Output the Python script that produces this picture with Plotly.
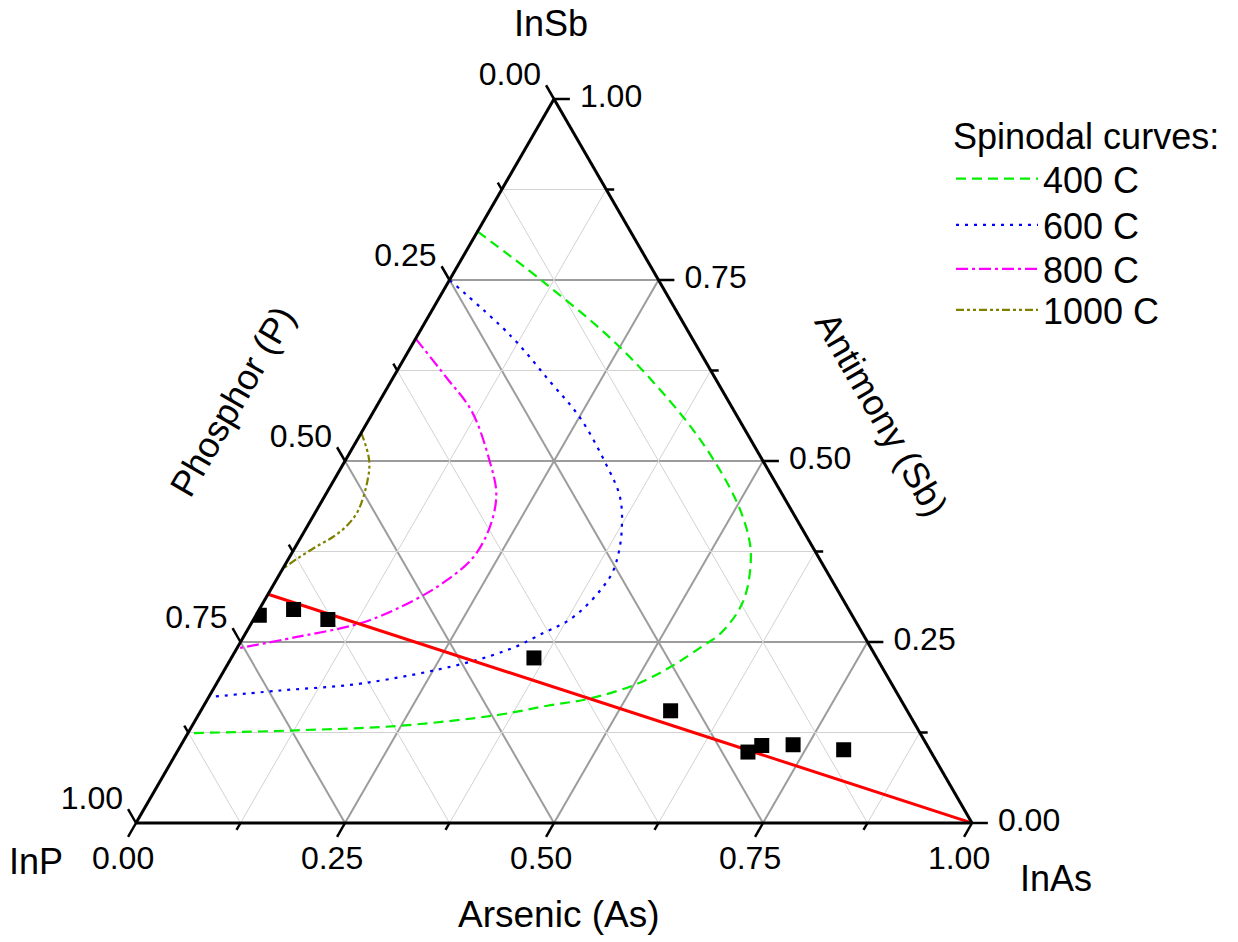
import math
import plotly.graph_objects as go

# Ternary system InP - InAs - InSb; a = Sb (top), b = P (bottom left), c = As (bottom right).
# Only Sb and As are given; plotly fills in P = 1 - Sb - As.

# Measured samples
sample_sb = [0.287, 0.295, 0.281, 0.228, 0.155, 0.098, 0.107, 0.108, 0.101]
sample_as = [0.004, 0.041, 0.089, 0.362, 0.562, 0.683, 0.695, 0.732, 0.796]

# Straight line from InP(0.684)Sb(0.316) to InAs
line_sb = [0.316, 0.0]
line_as = [0.0, 1.0]

# Spinodal curves
spin400_sb = [0.817, 0.749, 0.661, 0.560, 0.495, 0.440, 0.397, 0.367, 0.321, 0.293,
              0.261, 0.245, 0.218, 0.192, 0.172, 0.162, 0.149, 0.134, 0.128, 0.124]
spin400_as = [0.000, 0.111, 0.245, 0.375, 0.447, 0.500, 0.534, 0.552, 0.570, 0.574,
              0.568, 0.556, 0.534, 0.503, 0.457, 0.411, 0.357, 0.245, 0.128, 0.000]

spin600_sb = [0.750, 0.672, 0.610, 0.560, 0.495, 0.450, 0.404, 0.369, 0.344, 0.323,
              0.296, 0.277, 0.264, 0.242, 0.220, 0.193, 0.183, 0.174]
spin600_as = [0.000, 0.113, 0.190, 0.251, 0.315, 0.354, 0.379, 0.392, 0.397, 0.395,
              0.387, 0.375, 0.358, 0.330, 0.281, 0.175, 0.081, 0.000]

spin800_sb = [0.669, 0.615, 0.569, 0.500, 0.454, 0.408, 0.367, 0.335, 0.307, 0.277, 0.257, 0.241]
spin800_as = [0.000, 0.064, 0.117, 0.173, 0.204, 0.219, 0.220, 0.204, 0.178, 0.133, 0.064, 0.000]

spin1000_sb = [0.539, 0.500, 0.468, 0.431, 0.411, 0.395, 0.382, 0.366, 0.351]
spin1000_as = [0.000, 0.029, 0.042, 0.050, 0.047, 0.038, 0.025, 0.011, 0.000]

curve_names = ["400 C", "600 C", "800 C", "1000 C"]

# Axis ticks and labels
tick_vals = [0.0, 0.125, 0.25, 0.375, 0.5, 0.625, 0.75, 0.875, 1.0]
major_vals = [0.0, 0.25, 0.5, 0.75, 1.0]
minor_grid_vals = [0.125, 0.375, 0.625, 0.875]
major_grid_vals = [0.25, 0.5, 0.75]

FONT = "Arial, Liberation Sans, sans-serif"
W, H = 1238, 942
TRI_LEFT, TRI_BOTTOM, TRI_SIDE = 136, 823, 836     # triangle placement in pixels
S3 = math.sqrt(3) / 2
MAJOR_LEN = 0.019
MINOR_LEN = 0.0095
LABEL_OFF = 0.031


def tern_xy(sb, ars):
    """Cartesian position (side length 1, InP at the origin) of a composition."""
    return ars + sb / 2, sb * S3


fig = go.Figure()

# minor grid lines (one segment per constant Sb, As and P value)
g_sb, g_as = [], []
for v in minor_grid_vals:
    g_sb += [v, v, None]           # constant Sb
    g_as += [0.0, 1 - v, None]
    g_sb += [0.0, 1 - v, None]     # constant As
    g_as += [v, v, None]
    g_sb += [0.0, 1 - v, None]     # constant P
    g_as += [1 - v, 0.0, None]
fig.add_trace(go.Scatterternary(a=g_sb, c=g_as, mode="lines", hoverinfo="skip",
                                line=dict(color="#d2d2d2", width=1), showlegend=False))

# spinodal curves, each with its own legend row
curve_styles = [
    ("#00f000", "10px,6px"),
    ("#0000ff", "3px,6px"),
    ("#ff00ff", "12px,4px,3px,4px"),
    ("#808000", "8px,3px,3px,3px,3px,3px"),
]
legend_ids = ["legend", "legend2", "legend3", "legend4"]
curves = [(spin400_sb, spin400_as), (spin600_sb, spin600_as),
          (spin800_sb, spin800_as), (spin1000_sb, spin1000_as)]
for (sb, ars), name, (col, dash), lg in zip(curves, curve_names, curve_styles, legend_ids):
    fig.add_trace(go.Scatterternary(a=sb, c=ars, mode="lines", name=name, legend=lg,
                                    line=dict(color=col, width=2.2, dash=dash, shape="spline")))

# red line
fig.add_trace(go.Scatterternary(a=line_sb, c=line_as, mode="lines", showlegend=False,
                                line=dict(color="#ff0000", width=3)))

# samples
fig.add_trace(go.Scatterternary(a=sample_sb, c=sample_as, mode="markers", showlegend=False,
                                marker=dict(symbol="square", size=15, color="black")))

# tick marks outside the triangle, pointing along the grid directions
tx, ty = [], []
for v in tick_vals:
    d = MAJOR_LEN if v in major_vals else MINOR_LEN
    for (sb0, as0), (sb1, as1) in [
        ((1 - v, 0.0), (1 - v + d, -d)),      # left side, P = v
        ((0.0, v), (-d, v)),                  # bottom, As = v
        ((v, 1 - v), (v, 1 - v + d)),         # right side, Sb = v
    ]:
        x0, y0 = tern_xy(sb0, as0)
        x1, y1 = tern_xy(sb1, as1)
        tx += [x0, x1, None]
        ty += [y0, y1, None]
fig.add_trace(go.Scatter(x=tx, y=ty, mode="lines", hoverinfo="skip", cliponaxis=False,
                         line=dict(color="black", width=2.5), showlegend=False))

labels = ["%.2f" % v for v in major_vals]
tick_font = dict(family=FONT, size=32, color="black")
label_sets = [
    ([tern_xy(1 - v + LABEL_OFF, -LABEL_OFF) for v in major_vals], "middle left"),   # P
    ([tern_xy(-LABEL_OFF, v) for v in major_vals], "bottom center"),                # As
    ([tern_xy(v, 1 - v + LABEL_OFF) for v in major_vals], "middle right"),          # Sb
]
for pts, pos in label_sets:
    fig.add_trace(go.Scatter(x=[p[0] for p in pts], y=[p[1] for p in pts], mode="text",
                             text=labels, textposition=pos, textfont=tick_font,
                             cliponaxis=False, showlegend=False, hoverinfo="skip"))

axis_style = dict(tickmode="array", tickvals=major_grid_vals, showticklabels=False, ticks="",
                  showgrid=True, gridcolor="#9c9c9c", gridwidth=1.5,
                  showline=True, linecolor="black", linewidth=3, title=dict(text=""))

title_font = dict(family=FONT, size=36, color="black")
legend_font = dict(family=FONT, size=36, color="black")


def note(text, px, py, angle=0, size=36):
    return dict(text=text, x=px / W, y=1 - py / H, xref="paper", yref="paper",
                xanchor="center", yanchor="middle", showarrow=False,
                textangle=angle, font=dict(title_font, size=size))


def legend_box(py, **extra):
    box = dict(x=951 / W, y=1 - py / H, xanchor="left", yanchor="middle",
               font=legend_font, itemwidth=82, bgcolor="rgba(0,0,0,0)", borderwidth=0)
    box.update(extra)
    return box


tri_h = TRI_SIDE * S3
fig.update_layout(
    width=W, height=H,
    margin=dict(l=0, r=0, t=0, b=0),
    paper_bgcolor="white",
    plot_bgcolor="white",
    font=dict(family=FONT, color="black"),
    xaxis=dict(visible=False, domain=[0, 1],
               range=[-TRI_LEFT / TRI_SIDE, (W - TRI_LEFT) / TRI_SIDE]),
    yaxis=dict(visible=False, domain=[0, 1],
               range=[-(H - TRI_BOTTOM) / TRI_SIDE, TRI_BOTTOM / TRI_SIDE]),
    ternary=dict(
        sum=1,
        bgcolor="white",
        domain=dict(x=[TRI_LEFT / W, (TRI_LEFT + TRI_SIDE) / W],
                    y=[(H - TRI_BOTTOM) / H, (H - TRI_BOTTOM + tri_h) / H]),
        aaxis=axis_style, baxis=axis_style, caxis=axis_style,
    ),
    legend=legend_box(102, yanchor="top",
                      title=dict(text="Spinodal curves:", font=legend_font)),
    legend2=legend_box(225),
    legend3=legend_box(269),
    legend4=legend_box(310),
    annotations=[
        note("InSb", 551, 24),
        note("InP", 36, 861),
        note("InAs", 1056, 878),
        note("Arsenic (As)", 558, 914, size=37),
        note("Antimony (Sb)", 882, 414, 60),
        note("Phosphor (P)", 232, 401, -60),
    ],
)

fig.write_html("out.html")
